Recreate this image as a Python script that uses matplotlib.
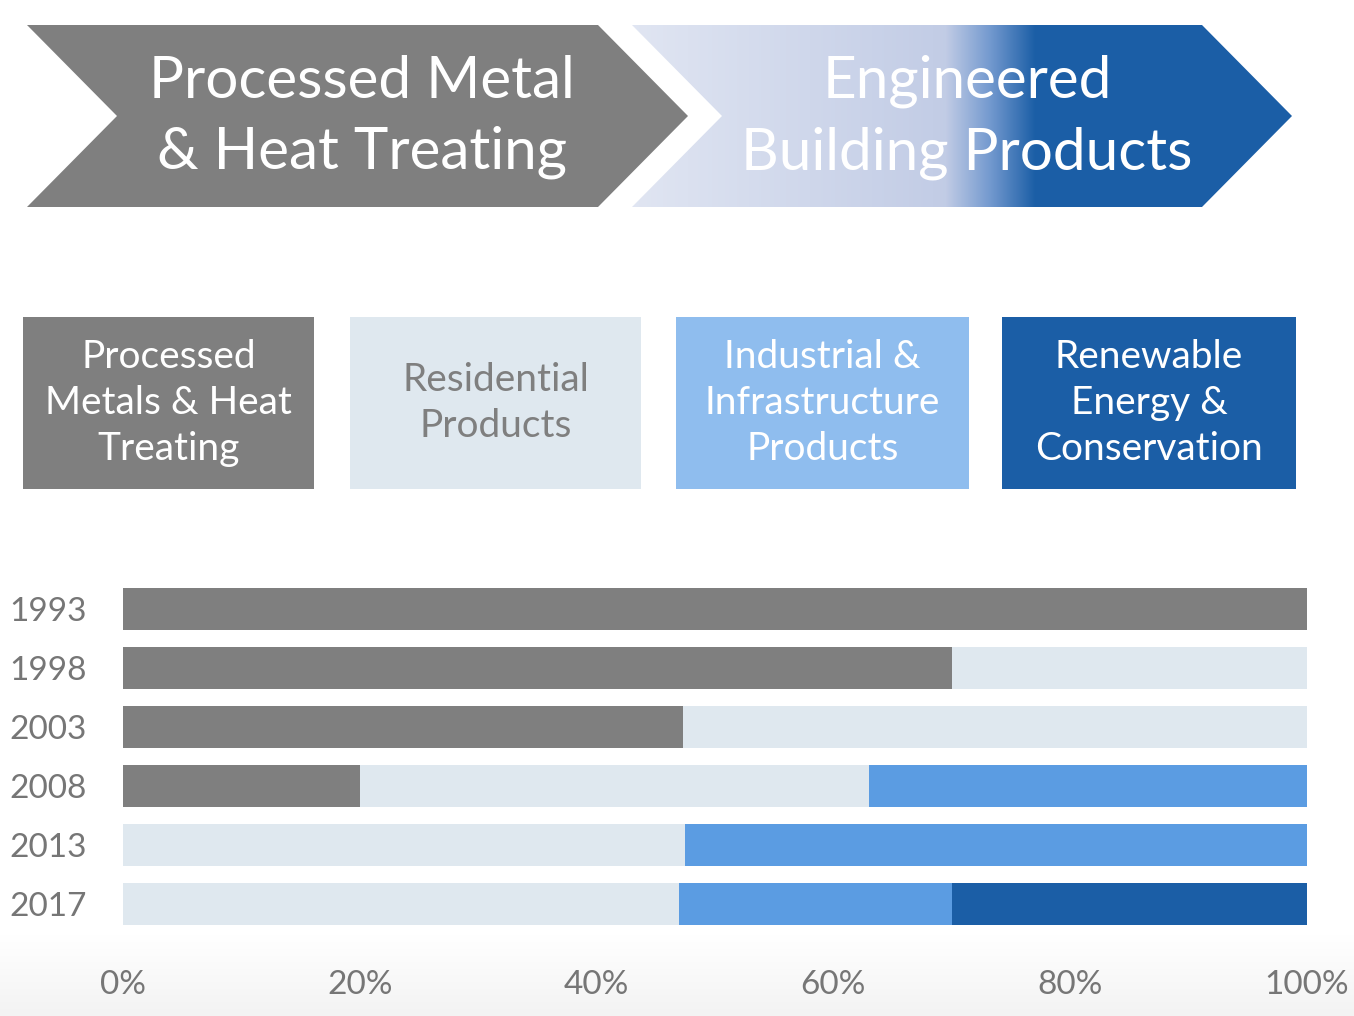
import numpy as np
import matplotlib
matplotlib.use("Agg")
import matplotlib.pyplot as plt
from matplotlib.patches import Polygon, Rectangle
from matplotlib.colors import LinearSegmentedColormap

plt.rcParams['font.family'] = ['Lato', 'DejaVu Sans']

# ====== data ======
years       = ['1993', '1998', '2003', '2008', '2013', '2017']
processed   = [100, 70, 47.3, 20, 0, 0]
residential = [0, 30, 52.7, 43, 47.5, 47]
industrial  = [0, 0, 0, 37, 52.5, 23]
renewable   = [0, 0, 0, 0, 0, 30]
pct_ticks   = [0, 20, 40, 60, 80, 100]
pct_labels  = ['0%', '20%', '40%', '60%', '80%', '100%']

segment_names = ['Processed\nMetals & Heat\nTreating', 'Residential\nProducts',
                 'Industrial &\nInfrastructure\nProducts', 'Renewable\nEnergy &\nConservation']
headers = ['Processed Metal\n& Heat Treating', 'Engineered\nBuilding Products']

c_gray  = '#7f7f7f'
c_res   = '#dfe8ef'
c_ind   = '#5b9ce2'
c_ren   = '#1b5ea6'
c_box3  = '#8fbdee'

W, H = 1354, 1016
fig = plt.figure(figsize=(W / 100, H / 100), dpi=100)

# ---- overlay in pixel coords ----
ax0 = fig.add_axes([0, 0, 1, 1])
ax0.set_xlim(0, W)
ax0.set_ylim(H, 0)
ax0.axis('off')

# faint grey fade at the bottom
fade = np.linspace(0, 1, 100).reshape(-1, 1)
fade_cmap = LinearSegmentedColormap.from_list('fade', ['#ffffff', '#f3f3f3'])
ax0.imshow(fade, cmap=fade_cmap, extent=[0, W, H, 935], aspect='auto', zorder=0)

# left chevron
gray_chev = [(27, 25), (598, 25), (688, 116), (598, 207), (27, 207), (117, 116)]
ax0.add_patch(Polygon(gray_chev, closed=True, facecolor=c_gray, edgecolor='none'))

# right chevron with gradient fill
blue_chev = [(632, 25), (1202, 25), (1292, 116), (1202, 207), (632, 207), (722, 116)]
poly = Polygon(blue_chev, closed=True, facecolor='none', edgecolor='none')
ax0.add_patch(poly)
xs = np.arange(632, 1293)
stops_x = [632, 945, 990, 1035, 1292]
stops_c = np.array([[0.88, 0.90, 0.95], [0.76, 0.80, 0.90], [0.45, 0.60, 0.81],
                    [0.106, 0.369, 0.651], [0.106, 0.369, 0.651]])
grad = np.stack([np.interp(xs, stops_x, stops_c[:, k]) for k in range(3)], axis=-1)
grad = np.repeat(grad[np.newaxis, :, :], 2, axis=0)
im = ax0.imshow(grad, extent=[632, 1293, 207, 25], aspect='auto', zorder=1)
im.set_clip_path(poly)

ax0.text(362, 117, headers[0], ha='center', va='center', color='white',
         fontsize=42, linespacing=1.42, zorder=3)
ax0.text(967, 117, headers[1], ha='center', va='center', color='white',
         fontsize=42, linespacing=1.42, zorder=3)

# legend boxes
box_x = [23, 350, 676, 1002]
box_w = [291, 291, 293, 294]
box_fc = [c_gray, c_res, c_box3, c_ren]
box_tc = ['white', c_gray, 'white', 'white']
for bx, bw, fc, tc, name in zip(box_x, box_w, box_fc, box_tc, segment_names):
    ax0.add_patch(Rectangle((bx, 317), bw, 172, facecolor=fc, edgecolor='none'))
    ax0.text(bx + bw / 2, 403, name, ha='center', va='center', color=tc,
             fontsize=28, linespacing=1.36)

# ---- stacked bar chart ----
ax = fig.add_axes([123 / W, 1 - 933.5 / H, 1184 / W, 354 / H])
ax.patch.set_alpha(0)
y = np.arange(len(years))
left = np.zeros(len(years))
for vals, col in zip([processed, residential, industrial, renewable],
                     [c_gray, c_res, c_ind, c_ren]):
    ax.barh(y, vals, left=left, height=0.71, color=col, edgecolor='none')
    left += np.array(vals)

ax.set_xlim(0, 100)
ax.set_ylim(len(years) - 0.5, -0.5)
ax.set_yticks(y)
ax.set_yticklabels(years)
ax.set_xticks(pct_ticks)
ax.set_xticklabels(pct_labels)
ax.tick_params(axis='both', length=0, labelsize=24, colors='#767676')
ax.tick_params(axis='y', pad=26)
ax.tick_params(axis='x', pad=26)
for s in ax.spines.values():
    s.set_visible(False)

fig.savefig('out.png', dpi=100)
